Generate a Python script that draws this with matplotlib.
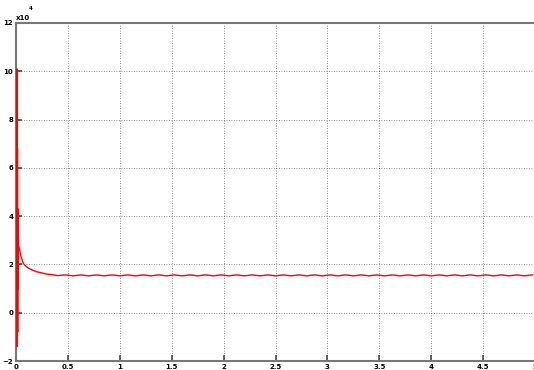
import numpy as np
import matplotlib
matplotlib.use("Agg")
from matplotlib import pyplot as plt

# start-up transient (time in s, value in 1e4 units)
head_t = [0.006, 0.009, 0.012, 0.014, 0.016, 0.018, 0.020, 0.022, 0.025, 0.03,
          0.04, 0.05, 0.07, 0.09, 0.12, 0.15, 0.2, 0.25, 0.3, 0.35]
head_v = [0.0, 10.1, -1.4, 6.8, -0.8, 4.3, 1.0, 3.4, 2.8, 2.7,
          2.5, 2.3, 2.05, 1.95, 1.85, 1.78, 1.7, 1.65, 1.6, 1.58]

# steady part with small ripple (peaks / troughs)
tail_t = [0.400, 0.475, 0.550, 0.625, 0.700, 0.775, 0.850, 0.925, 1.000, 1.075,
          1.150, 1.225, 1.300, 1.375, 1.450, 1.525, 1.600, 1.675, 1.750, 1.825,
          1.900, 1.975, 2.050, 2.125, 2.200, 2.275, 2.350, 2.425, 2.500, 2.575,
          2.650, 2.725, 2.800, 2.875, 2.950, 3.025, 3.100, 3.175, 3.250, 3.325,
          3.400, 3.475, 3.550, 3.625, 3.700, 3.775, 3.850, 3.925, 4.000, 4.075,
          4.150, 4.225, 4.300, 4.375, 4.450, 4.525, 4.600, 4.675, 4.750, 4.825,
          4.900, 4.975]
tail_v = [1.54, 1.57, 1.53, 1.57, 1.53, 1.57, 1.53, 1.57, 1.53, 1.57,
          1.53, 1.57, 1.53, 1.57, 1.53, 1.57, 1.53, 1.57, 1.53, 1.57,
          1.53, 1.57, 1.53, 1.57, 1.53, 1.57, 1.53, 1.57, 1.53, 1.57,
          1.53, 1.57, 1.53, 1.57, 1.53, 1.57, 1.53, 1.57, 1.53, 1.57,
          1.53, 1.57, 1.53, 1.57, 1.53, 1.57, 1.53, 1.57, 1.53, 1.57,
          1.53, 1.57, 1.53, 1.57, 1.53, 1.57, 1.53, 1.57, 1.53, 1.57,
          1.53, 1.57]

x_ticks = [0, 0.5, 1, 1.5, 2, 2.5, 3, 3.5, 4, 4.5, 5]
x_labels = ["0", "0.5", "1", "1.5", "2", "2.5", "3", "3.5", "4", "4.5", "5"]
y_ticks = [-2, 0, 2, 4, 6, 8, 10, 12]

t = np.array(head_t + tail_t)
v = np.array(head_v + tail_v)

fig = plt.figure(figsize=(5.34, 3.70), dpi=100)
ax = fig.add_axes([0.030, 0.024, 0.972, 0.914])

ax.plot(t, v, color="red", lw=1.0, zorder=3)

ax.set_xlim(0, 5)
ax.set_ylim(-2, 12)
ax.set_xticks(x_ticks)
ax.set_xticklabels(x_labels)
ax.set_yticks(y_ticks)
ax.grid(True, color="black", linestyle=(0, (1, 2)), lw=0.6, alpha=0.6)
ax.tick_params(direction="in", length=4, width=1.2, color="#444444",
               labelsize=5, pad=2)
for lab in ax.get_xticklabels() + ax.get_yticklabels():
    lab.set_fontweight("bold")
for s in ax.spines.values():
    s.set_color("#777777")
    s.set_linewidth(1.5)

fig.text(0.030, 0.945, "x10", fontsize=5, fontweight="bold")
fig.text(0.054, 0.972, "4", fontsize=4, fontweight="bold")

fig.savefig("out.png", dpi=100)
